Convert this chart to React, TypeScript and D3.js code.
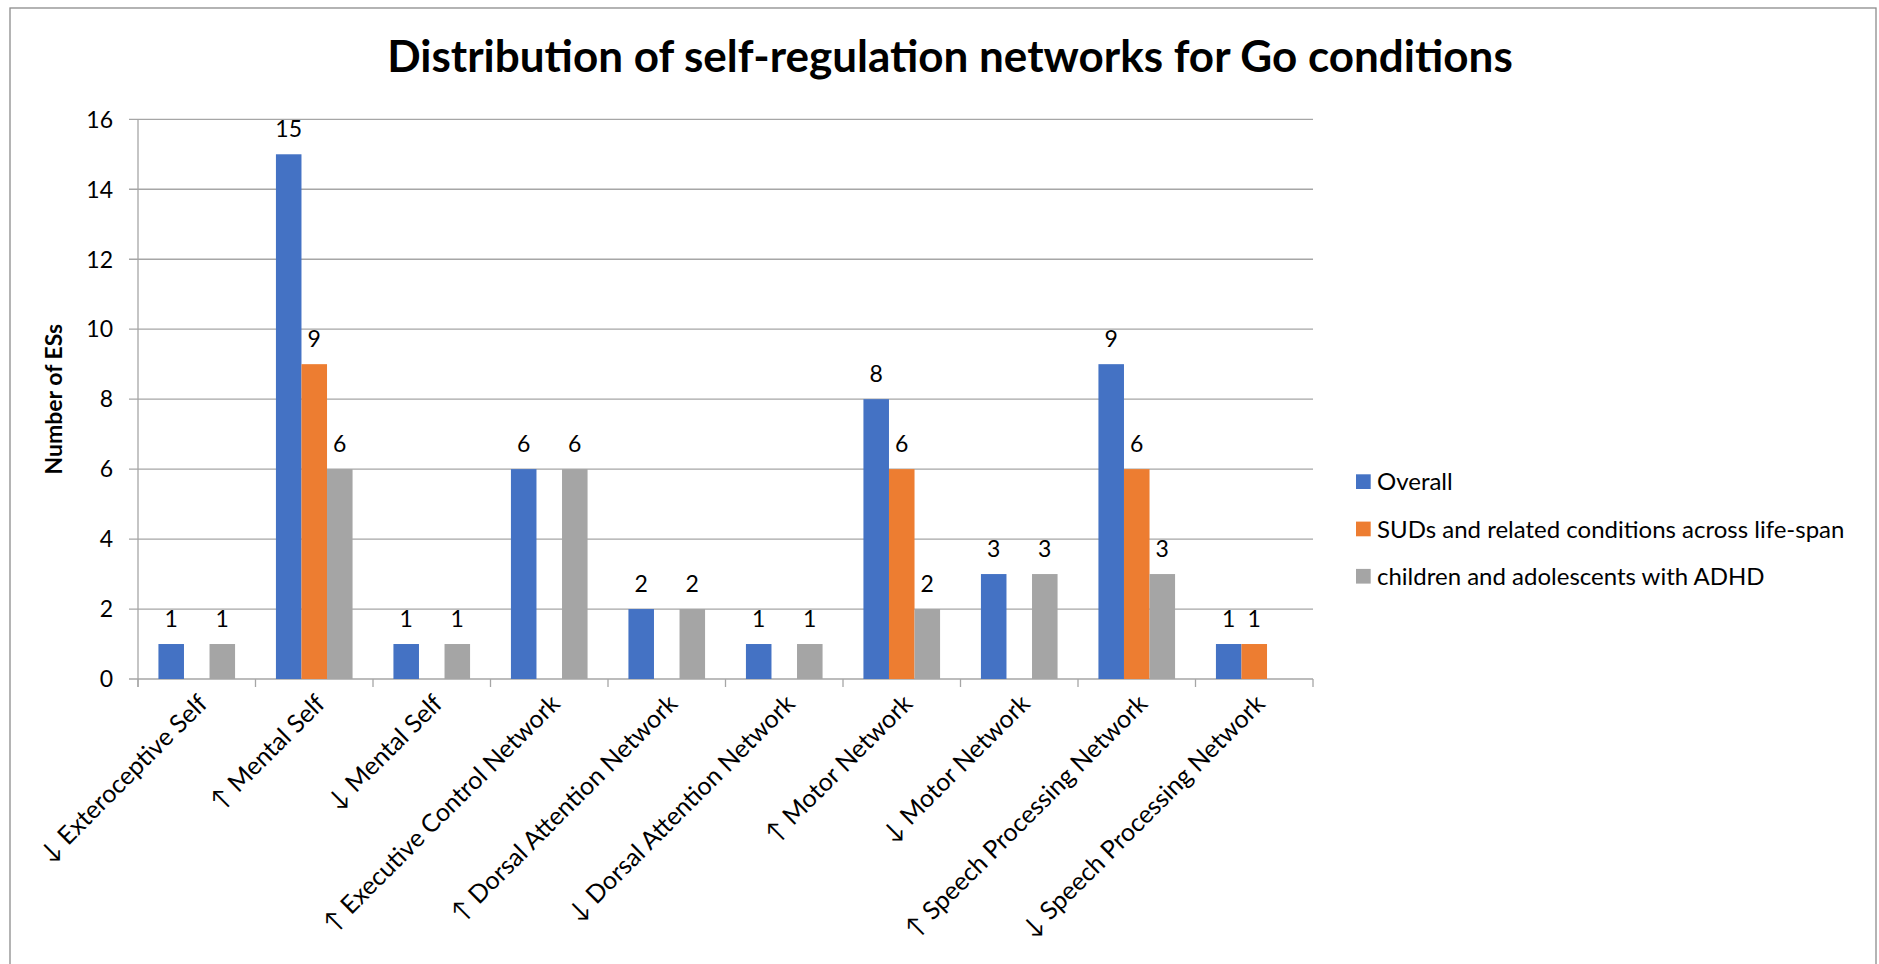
import React from "react";
import * as d3 from "d3";

const categories: string[] = [
  "↓ Exteroceptive Self",
  "↑ Mental Self",
  "↓ Mental Self",
  "↑ Executive Control Network",
  "↑ Dorsal Attention Network",
  "↓ Dorsal Attention Network",
  "↑ Motor Network",
  "↓ Motor Network",
  "↑ Speech Processing Network",
  "↓ Speech Processing Network",
];

const seriesNames: string[] = [
  "Overall",
  "SUDs and related conditions across life-span",
  "children and adolescents with ADHD",
];

const overall: (number | null)[] = [1, 15, 1, 6, 2, 1, 8, 3, 9, 1];
const suds: (number | null)[] = [null, 9, null, null, null, null, 6, null, 6, 1];
const adhd: (number | null)[] = [1, 6, 1, 6, 2, 1, 2, 3, 3, null];

const yTicks: number[] = [0, 2, 4, 6, 8, 10, 12, 14, 16];

const colors = ["#4472C4", "#ED7D31", "#A5A5A5"];

const W = 1879;
const H = 964;
const FONT = "Lato, Carlito, 'Open Sans', sans-serif";

export default function App() {
  const left = 138;
  const right = 1313;
  const top = 119.3;
  const bottom = 679;

  const x = d3.scaleBand<string>().domain(categories).range([left, right]).paddingInner(0).paddingOuter(0);
  const y = d3.scaleLinear().domain([0, 16]).range([bottom, top]);
  const bw = x.bandwidth();
  const barW = bw / 4.6;
  const xs = d3.scaleBand<number>().domain([0, 1, 2]).range([0, barW * 3]);
  const groupOffset = (bw - barW * 3) / 2;

  const series = [overall, suds, adhd];
  const gridColor = "#A6A6A6";

  const boundaries = categories.map((c) => x(c) as number).concat([right]);

  return (
    <div style={{ position: "absolute", left: 0, top: 0 }}>
      <svg width={W} height={H} style={{ display: "block", background: "#fff" }}>
        <rect x={10} y={8} width={1866} height={1000} fill="#fff" stroke="#8c8c8c" strokeWidth={1.3} />
        <text x={950} y={71.7} textAnchor="middle" fontFamily={FONT} fontWeight={700} fontSize={44} fill="#000">
          Distribution of self-regulation networks for Go conditions
        </text>

        {/* gridlines */}
        {yTicks.map((t) => (
          <g key={t}>
            <line x1={129} x2={right} y1={y(t)} y2={y(t)} stroke={gridColor} strokeWidth={1.3} />
            <text x={113} y={y(t)} dy="0.36em" textAnchor="end" fontFamily={FONT} fontSize={23} fill="#000">
              {t}
            </text>
          </g>
        ))}
        {/* y axis */}
        <line x1={left} x2={left} y1={top} y2={bottom + 8} stroke={gridColor} strokeWidth={1.3} />
        {/* x ticks */}
        {boundaries.map((b, i) => (
          <line key={i} x1={b} x2={b} y1={bottom} y2={bottom + 8} stroke={gridColor} strokeWidth={1.3} />
        ))}

        <text
          transform={`translate(54,${(top + bottom) / 2}) rotate(-90)`}
          textAnchor="middle"
          dy="0.35em"
          fontFamily={FONT}
          fontWeight={700}
          fontSize={23}
          fill="#000"
        >
          Number of ESs
        </text>

        {/* bars */}
        {series.map((s, si) =>
          s.map((v, ci) => {
            if (v === null) return null;
            const bx = (x(categories[ci]) as number) + groupOffset + (xs(si) as number);
            return (
              <g key={`${si}-${ci}`}>
                <rect x={bx} y={y(v)} width={barW} height={bottom - y(v)} fill={colors[si]} />
                <text
                  x={bx + barW / 2}
                  y={y(v) - 17}
                  textAnchor="middle"
                  fontFamily={FONT}
                  fontSize={23}
                  fill="#000"
                >
                  {v}
                </text>
              </g>
            );
          })
        )}

        {/* x labels */}
        {categories.map((c) => {
          const cx = (x(c) as number) + bw / 2;
          return (
            <text
              key={c}
              transform={`translate(${cx + 6},${bottom + 20}) rotate(-45)`}
              textAnchor="end"
              dy="0.35em"
              fontFamily={FONT}
              fontSize={25}
              fill="#000"
            >
              {c}
            </text>
          );
        })}

        {/* legend */}
        {seriesNames.map((n, i) => {
          const cy = 481.7 + i * 47.3;
          return (
            <g key={n}>
              <rect x={1356} y={cy - 7.4} width={14.7} height={14.7} fill={colors[i]} />
              <text x={1377} y={cy} dy="0.36em" fontFamily={FONT} fontSize={24} fill="#000">
                {n}
              </text>
            </g>
          );
        })}
      </svg>
    </div>
  );
}
